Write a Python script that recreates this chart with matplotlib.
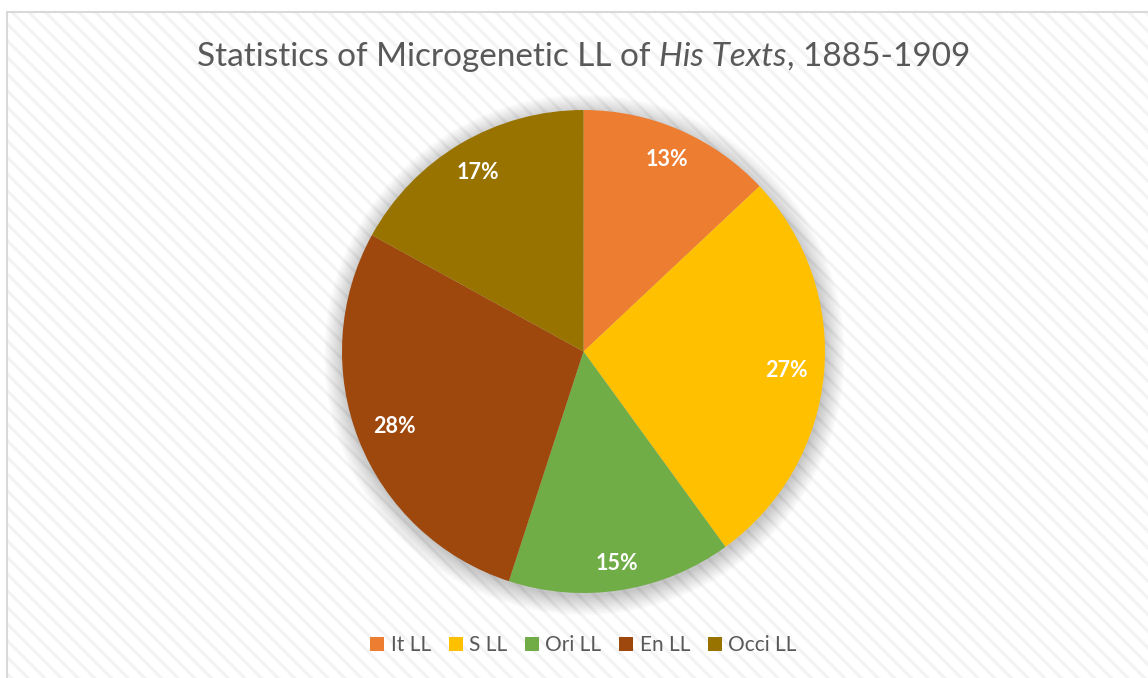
import matplotlib
matplotlib.use("Agg")
import matplotlib.pyplot as plt
import numpy as np
from matplotlib.patches import Rectangle, Circle

categories = ["It LL", "S LL", "Ori LL", "En LL", "Occi LL"]
values = [13, 27, 15, 28, 17]
colors = ["#ED7D31", "#FFC000", "#70AD47", "#9E480E", "#997300"]
title_plain = "Statistics of Microgenetic LL of "
title_italic = "His Texts"
title_end = ", 1885-1909"

W, H = 1148, 678
DPI = 100
plt.rcParams['font.family'] = ['Lato', 'DejaVu Sans']
plt.rcParams['hatch.linewidth'] = 2.2

fig = plt.figure(figsize=(W / DPI, H / DPI), dpi=DPI)
fig.patch.set_facecolor("white")

# background frame with diagonal hatch
x0 = 7 / W
bg = Rectangle((x0, 0), 1.2, (H - 12) / H, transform=fig.transFigure,
               facecolor="white", edgecolor="#f3f3f3", hatch="\\\\", linewidth=0, zorder=-5)
fig.patches.append(bg)
border = Rectangle((x0, -0.1), 1.2, (H - 12) / H + 0.1, transform=fig.transFigure,
                   fill=False, edgecolor="#d9d9d9", linewidth=1.5, zorder=-4)
fig.patches.append(border)

# pie axes
cx, cy, R = 583.5, H - 351.5, 241.5
s = 2 * R * 1.1
ax = fig.add_axes([(cx - s / 2) / W, (cy - s / 2) / H, s / W, s / H])
ax.set_zorder(2)
ax.patch.set_visible(False)

# soft shadow
for i in range(14):
    r = 1.0 + 0.006 * i
    ax.add_patch(Circle((0.004, -0.014), r, facecolor="black", alpha=0.016,
                        edgecolor="none", zorder=0))

wedges, texts, autotexts = ax.pie(
    values, colors=colors, startangle=90, counterclock=False, radius=1.0,
    autopct=lambda p: f"{p:.0f}%", pctdistance=0.86,
    wedgeprops=dict(linewidth=0, zorder=2),
    textprops=dict(color="white", fontsize=15.5, fontweight="bold"))

# per-label radial placement (Excel best-fit style)
label_dist = [0.865, 0.845, 0.89, 0.84, 0.86]
for w, t, d in zip(wedges, autotexts, label_dist):
    ang = np.deg2rad((w.theta1 + w.theta2) / 2)
    t.set_position((d * np.cos(ang), d * np.sin(ang)))
    t.set_zorder(3)
ax.set_xlim(-1.1, 1.1)
ax.set_ylim(-1.1, 1.1)
ax.set_aspect("equal")
ax.axis("off")

# title with italic part
tc = "#595959"
ty = 1 - 57 / H
fs = 24
renderer = fig.canvas.get_renderer()
parts = [(title_plain, "normal"), (title_italic, "italic"), (title_end, "normal")]
widths = []
for txt, st in parts:
    tt = fig.text(0, 0, txt, fontsize=fs, style=st)
    widths.append(tt.get_window_extent(renderer).width)
    tt.remove()
total = sum(widths)
xs = cx - total / 2
for (txt, st), w in zip(parts, widths):
    fig.text(xs / W, ty, txt, fontsize=fs, style=st, color=tc, va="center", ha="left")
    xs += w

leg = fig.legend(wedges, categories, loc="center", bbox_to_anchor=(cx / W, 1 - 645 / H),
                 ncol=5, frameon=False, fontsize=15, labelcolor=tc,
                 handlelength=0.68, handleheight=0.68, handletextpad=0.3,
                 columnspacing=0.85)

fig.savefig("out.png", dpi=DPI)
